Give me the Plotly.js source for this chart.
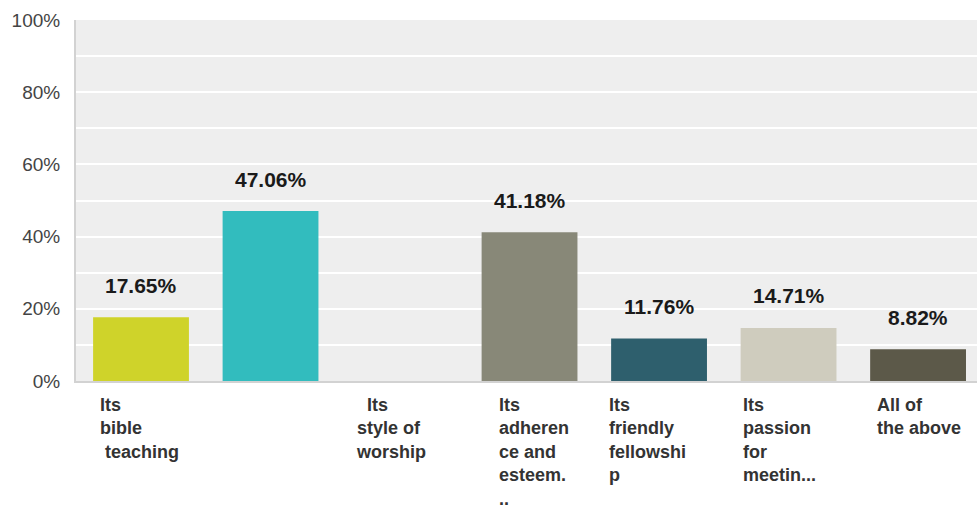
<!DOCTYPE html>
<html>
<head>
<meta charset="utf-8">
<script src="https://cdn.plot.ly/plotly-3.0.1.min.js"></script>
<style>html,body{margin:0;padding:0;background:#fff;}#chart{width:977px;height:511px;}</style>
</head>
<body>
<div id="chart"></div>
<script>
// Data
var categories = [
  "Its<br>bible<br>\u00a0teaching",
  "",
  "\u00a0\u00a0Its<br>style of<br>worship",
  "Its<br>adheren<br>ce and<br>esteem.<br>..",
  "Its<br>friendly<br>fellowshi<br>p",
  "Its<br>passion<br>for<br>meetin...",
  "All of<br>the above"
];
var values = [17.65, 47.06, 0, 41.18, 11.76, 14.71, 8.82];
var valueLabels = ["17.65%", "47.06%", "", "41.18%", "11.76%", "14.71%", "8.82%"];
var yTickVals = [0, 20, 40, 60, 80, 100];
var yTickText = ["0%", "20%", "40%", "60%", "80%", "100%"];

// Styles
var barColors = ["#CFD32A", "#32BCBE", "#C9C9BD", "#888878", "#2E5F6D", "#CFCCBE", "#5C5949"];
var labelShift = [-43, 0, -46, -33, -52, -48, -43];

var idx = values.map(function(_, i){ return i; });

var trace = {
  type: "bar",
  x: idx,
  y: values,
  marker: {color: barColors, line: {width: 0}},
  hoverinfo: "skip"
};

var annotations = [];
idx.forEach(function(i){
  if (valueLabels[i]) {
    annotations.push({
      x: i, y: values[i], xref: "x", yref: "y",
      text: "<b>" + valueLabels[i] + "</b>",
      showarrow: false, xanchor: "center", yanchor: "middle", yshift: 32,
      font: {family: "Arial, Liberation Sans, sans-serif", size: 21, color: "#1a1a1a"}
    });
  }
  if (categories[i]) {
    annotations.push({
      x: i, y: 0, xref: "x", yref: "y",
      text: "<b>" + categories[i] + "</b>",
      showarrow: false, xanchor: "left", yanchor: "top", align: "left",
      xshift: labelShift[i], yshift: -12,
      font: {family: "Arial, Liberation Sans, sans-serif", size: 18, color: "#333333"}
    });
  }
});

var layout = {
  width: 977, height: 511,
  margin: {l: 76, r: 0, t: 20, b: 130, pad: 0},
  paper_bgcolor: "#ffffff",
  plot_bgcolor: "#EEEEEE",
  showlegend: false,
  bargap: 0.26,
  xaxis: {
    range: [-0.502, 6.455],
    showticklabels: false, showgrid: false, zeroline: false,
    showline: true, linecolor: "#D2D2D2", linewidth: 2, ticks: "",
    fixedrange: true
  },
  yaxis: {
    range: [0, 100],
    tickvals: yTickVals, ticktext: yTickText,
    showgrid: true, gridcolor: "#FFFFFF", gridwidth: 2,
    minor: {dtick: 10, showgrid: true, gridcolor: "#FFFFFF", gridwidth: 2},
    zeroline: false,
    showline: true, linecolor: "#D2D2D2", linewidth: 2,
    ticks: "outside", ticklen: 10, tickcolor: "rgba(0,0,0,0)",
    tickfont: {family: "Arial, Liberation Sans, sans-serif", size: 19, color: "#444444"},
    fixedrange: true
  },
  annotations: annotations
};

Plotly.newPlot("chart", [trace], layout, {displayModeBar: false, staticPlot: true});
</script>
</body>
</html>
